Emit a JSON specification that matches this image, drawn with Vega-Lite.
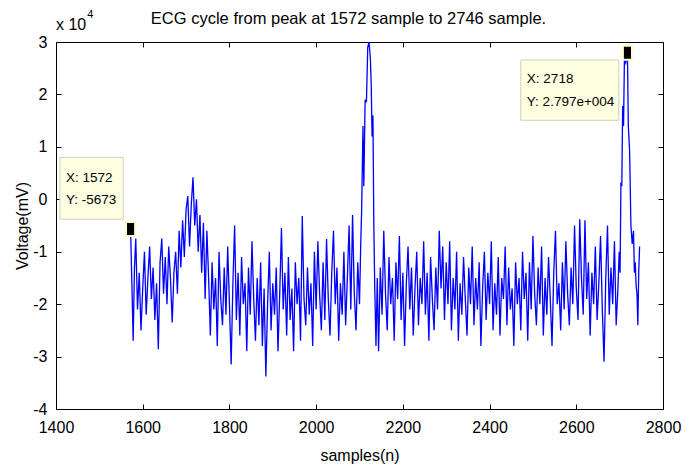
{
  "$schema": "https://vega.github.io/schema/vega-lite/v6.json",
  "width": 607,
  "height": 367,
  "autosize": {"type": "none"},
  "padding": {"left": 56, "top": 42, "right": 35, "bottom": 58},
  "background": "white",
  "config": {
    "font": "Liberation Sans, Arial, sans-serif",
    "view": {"stroke": null},
    "axis": {
      "domainColor": "black",
      "domainWidth": 1,
      "tickColor": "black",
      "labelColor": "black",
      "titleColor": "black",
      "labelFontSize": 16,
      "titleFontSize": 16,
      "titleFontWeight": "normal",
      "grid": false,
      "tickSize": -5,
      "labelPadding": 8,
      "labelFlush": false,
      "labelOverlap": false,
      "labelExpr": "'' + datum.value"
    }
  },
  "title": {
    "text": "ECG cycle from peak at 1572 sample to 2746 sample.",
    "fontSize": 16.5,
    "fontWeight": "normal",
    "color": "black",
    "offset": 0,
    "dy": 18,
    "dx": -11
  },
  "datasets": {
    "ecg": [
      {"n":1572,"v":-0.567},{"n":1575,"v":-1.6},{"n":1578,"v":-2.7},{"n":1581,"v":-1.3},{"n":1584,"v":-0.75},{"n":1588,"v":-2.1},{"n":1592,"v":-1.4},{"n":1596,"v":-2.5},{"n":1600,"v":-1.7},{"n":1604,"v":-1.0},{"n":1608,"v":-2.2},{"n":1612,"v":-1.5},{"n":1616,"v":-0.9},{"n":1620,"v":-1.9},{"n":1624,"v":-1.3},{"n":1628,"v":-2.3},{"n":1632,"v":-1.6},{"n":1636,"v":-2.86},{"n":1640,"v":-1.2},{"n":1644,"v":-0.75},{"n":1648,"v":-1.8},{"n":1652,"v":-1.1},{"n":1656,"v":-2.0},{"n":1660,"v":-0.9},{"n":1664,"v":-1.5},{"n":1668,"v":-2.35},{"n":1672,"v":-1.4},{"n":1676,"v":-1.0},
      {"n":1680,"v":-1.8},{"n":1684,"v":-0.6},{"n":1688,"v":-1.3},{"n":1692,"v":-0.4},{"n":1696,"v":-1.1},{"n":1700,"v":-0.2},{"n":1704,"v":0.06},{"n":1708,"v":-0.9},{"n":1712,"v":-0.1},{"n":1716,"v":0.42},{"n":1720,"v":-0.5},{"n":1724,"v":0.0},{"n":1728,"v":-1.0},{"n":1732,"v":-0.3},{"n":1736,"v":-1.4},{"n":1740,"v":-0.45},{"n":1744,"v":-1.9},{"n":1748,"v":-0.6},{"n":1752,"v":-1.5},
      {"n":1756,"v":-2.6},{"n":1760,"v":-1.2},{"n":1764,"v":-2.1},{"n":1768,"v":-1.5},{"n":1772,"v":-2.8},{"n":1776,"v":-1.0},{"n":1780,"v":-1.9},{"n":1784,"v":-2.4},{"n":1788,"v":-1.3},{"n":1792,"v":-2.2},{"n":1796,"v":-0.9},{"n":1800,"v":-2.0},{"n":1804,"v":-3.15},{"n":1808,"v":-1.6},{"n":1812,"v":-0.5},{"n":1816,"v":-2.3},{"n":1820,"v":-1.4},
      {"n":1824,"v":-2.6},{"n":1828,"v":-1.1},{"n":1832,"v":-2.0},{"n":1836,"v":-1.6},{"n":1840,"v":-2.9},{"n":1844,"v":-1.3},{"n":1848,"v":-2.2},{"n":1852,"v":-0.8},{"n":1856,"v":-1.9},{"n":1860,"v":-2.7},{"n":1864,"v":-1.5},{"n":1868,"v":-2.4},{"n":1872,"v":-1.2},{"n":1876,"v":-2.8},{"n":1880,"v":-1.7},{"n":1884,"v":-3.38},{"n":1888,"v":-2.0},{"n":1892,"v":-1.0},{"n":1896,"v":-2.5},{"n":1900,"v":-1.6},{"n":1904,"v":-2.2},{"n":1908,"v":-1.3},{"n":1912,"v":-2.9},{"n":1916,"v":-1.8},{"n":1920,"v":-0.55},{"n":1924,"v":-2.1},{"n":1928,"v":-1.4},{"n":1932,"v":-2.6},{"n":1936,"v":-1.1},{"n":1940,"v":-2.3},{"n":1944,"v":-1.7},{"n":1948,"v":-2.9},{"n":1952,"v":-1.2},{"n":1956,"v":-2.0},{"n":1960,"v":-1.5},{"n":1964,"v":-2.7},{"n":1968,"v":-0.32},{"n":1972,"v":-1.9},{"n":1976,"v":-2.4},{"n":1980,"v":-1.3},{"n":1984,"v":-2.2},{"n":1988,"v":-1.6},{"n":1992,"v":-2.8},{"n":1996,"v":-1.0},{"n":2000,"v":-2.1},{"n":2004,"v":-0.8},{"n":2008,"v":-1.8},{"n":2012,"v":-2.5},{"n":2016,"v":-1.2},{"n":2020,"v":-2.3},{"n":2024,"v":-0.76},{"n":2028,"v":-1.9},{"n":2032,"v":-2.6},{"n":2036,"v":-1.4},{"n":2040,"v":-0.6},{"n":2044,"v":-2.0},{"n":2048,"v":-1.3},{"n":2052,"v":-2.7},{"n":2056,"v":-1.6},{"n":2060,"v":-2.2},{"n":2064,"v":-1.0},{"n":2068,"v":-2.4},{"n":2072,"v":-1.5},{"n":2076,"v":-0.5},{"n":2080,"v":-2.1},{"n":2084,"v":-0.3},{"n":2088,"v":-1.8},{"n":2092,"v":-2.5},{"n":2096,"v":-1.2},{"n":2100,"v":-2.0},
      {"n":2103,"v":-0.8},{"n":2105,"v":-0.2},{"n":2108,"v":1.4},{"n":2110,"v":0.25},{"n":2113,"v":1.9},{"n":2116,"v":1.85},{"n":2119,"v":2.9},{"n":2122,"v":3.0},{"n":2125,"v":2.7},{"n":2127,"v":2.2},{"n":2129,"v":1.2},{"n":2131,"v":1.6},{"n":2133,"v":-0.45},{"n":2135,"v":-1.6},{"n":2138,"v":-2.8},{"n":2141,"v":-1.5},
      {"n":2144,"v":-2.9},{"n":2148,"v":-1.3},{"n":2152,"v":-2.2},{"n":2156,"v":-0.6},{"n":2160,"v":-1.8},{"n":2164,"v":-2.5},{"n":2168,"v":-1.1},{"n":2172,"v":-2.0},{"n":2176,"v":-1.5},{"n":2180,"v":-2.7},{"n":2184,"v":-1.2},{"n":2188,"v":-1.9},{"n":2192,"v":-0.7},{"n":2196,"v":-2.3},{"n":2200,"v":-1.4},{"n":2204,"v":-2.8},{"n":2208,"v":-1.6},{"n":2212,"v":-0.9},{"n":2216,"v":-2.1},{"n":2220,"v":-1.3},{"n":2224,"v":-2.6},{"n":2228,"v":-1.7},{"n":2232,"v":-1.0},{"n":2236,"v":-2.4},{"n":2240,"v":-1.5},{"n":2244,"v":-2.0},{"n":2248,"v":-0.8},{"n":2252,"v":-2.2},{"n":2256,"v":-1.4},{"n":2260,"v":-2.7},{"n":2264,"v":-1.1},{"n":2268,"v":-1.9},{"n":2272,"v":-2.5},{"n":2276,"v":-1.3},{"n":2280,"v":-2.1},
      {"n":2284,"v":-0.6},{"n":2288,"v":-1.7},{"n":2292,"v":-0.9},{"n":2296,"v":-2.3},{"n":2300,"v":-1.2},{"n":2304,"v":-2.0},{"n":2308,"v":-0.8},{"n":2312,"v":-2.5},{"n":2316,"v":-1.5},{"n":2320,"v":-2.1},{"n":2324,"v":-1.0},{"n":2328,"v":-2.7},{"n":2332,"v":-1.6},{"n":2336,"v":-2.2},{"n":2340,"v":-1.1},{"n":2344,"v":-1.9},{"n":2348,"v":-2.6},{"n":2352,"v":-1.3},{"n":2356,"v":-2.0},{"n":2360,"v":-0.9},{"n":2364,"v":-2.4},{"n":2368,"v":-1.5},{"n":2372,"v":-2.1},{"n":2376,"v":-1.2},{"n":2380,"v":-2.8},{"n":2384,"v":-1.7},{"n":2388,"v":-1.0},{"n":2392,"v":-2.3},{"n":2396,"v":-1.4},{"n":2400,"v":-2.0},{"n":2404,"v":-0.8},{"n":2408,"v":-2.5},{"n":2412,"v":-1.6},{"n":2416,"v":-2.2},{"n":2420,"v":-1.1},{"n":2424,"v":-2.6},{"n":2428,"v":-1.5},{"n":2432,"v":-1.9},{"n":2436,"v":-0.9},{"n":2440,"v":-2.4},{"n":2444,"v":-1.3},{"n":2448,"v":-2.1},{"n":2452,"v":-1.7},{"n":2456,"v":-2.8},{"n":2460,"v":-1.2},{"n":2464,"v":-2.0},{"n":2468,"v":-1.5},
      {"n":2472,"v":-2.5},{"n":2476,"v":-1.0},{"n":2480,"v":-1.9},{"n":2484,"v":-1.4},{"n":2488,"v":-2.7},{"n":2492,"v":-1.2},{"n":2496,"v":-2.1},{"n":2500,"v":-0.7},{"n":2504,"v":-1.8},{"n":2508,"v":-2.4},{"n":2512,"v":-1.3},{"n":2516,"v":-2.0},{"n":2520,"v":-0.9},{"n":2524,"v":-2.6},{"n":2528,"v":-1.5},{"n":2532,"v":-2.2},{"n":2536,"v":-1.1},{"n":2540,"v":-1.9},{"n":2544,"v":-2.8},{"n":2548,"v":-1.4},{"n":2552,"v":-0.6},{"n":2556,"v":-2.0},{"n":2560,"v":-1.6},{"n":2564,"v":-2.5},{"n":2568,"v":-1.2},{"n":2572,"v":-2.1},{"n":2576,"v":-0.8},{"n":2580,"v":-1.8},{"n":2584,"v":-2.4},{"n":2588,"v":-1.3},{"n":2592,"v":-2.0},{"n":2596,"v":-0.5},{"n":2600,"v":-1.7},{"n":2604,"v":-2.3},{"n":2608,"v":-0.38},{"n":2612,"v":-1.5},{"n":2616,"v":-2.2},{"n":2620,"v":-0.4},{"n":2624,"v":-1.9},{"n":2628,"v":-1.2},{"n":2632,"v":-2.6},{"n":2636,"v":-1.4},{"n":2640,"v":-2.0},{"n":2644,"v":-0.9},{"n":2648,"v":-2.3},{"n":2652,"v":-1.6},{"n":2656,"v":-0.7},{"n":2660,"v":-2.1},{"n":2664,"v":-3.1},{"n":2668,"v":-1.5},{"n":2672,"v":-0.5},{"n":2676,"v":-2.2},{"n":2680,"v":-1.3},{"n":2684,"v":-2.0},{"n":2688,"v":-0.8},{"n":2692,"v":-2.4},{"n":2696,"v":-1.7},
      {"n":2699,"v":-1.0},{"n":2701,"v":-1.4},{"n":2703,"v":0.32},{"n":2705,"v":0.25},{"n":2707,"v":1.78},{"n":2709,"v":1.4},{"n":2711,"v":2.67},{"n":2714,"v":2.6},{"n":2718,"v":2.797},{"n":2720,"v":1.4},{"n":2723,"v":0.92},{"n":2726,"v":-0.5},{"n":2729,"v":-0.85},{"n":2732,"v":-0.6},{"n":2734,"v":-1.4},{"n":2736,"v":-1.2},{"n":2738,"v":-1.65},{"n":2740,"v":-1.8},{"n":2742,"v":-2.4},{"n":2744,"v":-1.4},{"n":2746,"v":-0.9}
    ],
    "tips": [
      {"x1":1409,"x2":1555,"y1":0.80,"y2":-0.38,"tx":1423,"ty1":0.40,"ty2":-0.02,"l1":"X: 1572","l2":"Y: -5673","pn":1572,"pv":-0.567},
      {"x1":2472,"x2":2698,"y1":2.657,"y2":1.507,"tx":2486,"ty1":2.30,"ty2":1.86,"l1":"X: 2718","l2":"Y: 2.797e+004","pn":2718,"pv":2.797}
    ],
    "exp": [
      {"n":1400,"v":3.23,"t":"x 10","s":16},
      {"n":1472,"v":3.45,"t":"4","s":11}
    ]
  },
  "layer": [
    {
      "data": {"name": "ecg"},
      "mark": {"type": "line", "color": "#0000ff", "strokeWidth": 1.3, "clip": true},
      "encoding": {
        "x": {"field": "n", "type": "quantitative",
              "scale": {"domain": [1400, 2800], "nice": false, "zero": false},
              "axis": {"orient": "bottom", "values": [1400,1600,1800,2000,2200,2400,2600,2800], "title": "samples(n)", "titlePadding": 12, "labelPadding": 15}},
        "y": {"field": "v", "type": "quantitative",
              "scale": {"domain": [-4, 3], "nice": false, "zero": false},
              "axis": {"orient": "left", "values": [-4,-3,-2,-1,0,1,2,3], "title": "Voltage(mV)", "titlePadding": 2, "labelPadding": 14}}
      }
    },
    {
      "data": {"name": "tips"},
      "mark": {"type": "rect", "fill": "#ffffe1", "stroke": "#cfcfbd", "strokeWidth": 1},
      "encoding": {
        "x": {"field": "x1", "type": "quantitative",
              "axis": {"orient": "top", "values": [1400,1600,1800,2000,2200,2400,2600,2800], "labels": false, "title": null}},
        "x2": {"field": "x2"},
        "y": {"field": "y1", "type": "quantitative",
              "axis": {"orient": "right", "values": [-4,-3,-2,-1,0,1,2,3], "labels": false, "title": null}},
        "y2": {"field": "y2"}
      }
    },
    {
      "data": {"name": "tips"},
      "mark": {"type": "text", "align": "left", "baseline": "middle", "fontSize": 13.5, "color": "black"},
      "encoding": {
        "x": {"field": "tx", "type": "quantitative", "axis": null},
        "y": {"field": "ty1", "type": "quantitative", "axis": null},
        "text": {"field": "l1"}
      }
    },
    {
      "data": {"name": "tips"},
      "mark": {"type": "text", "align": "left", "baseline": "middle", "fontSize": 13.5, "color": "black"},
      "encoding": {
        "x": {"field": "tx", "type": "quantitative", "axis": null},
        "y": {"field": "ty2", "type": "quantitative", "axis": null},
        "text": {"field": "l2"}
      }
    },
    {
      "data": {"name": "tips"},
      "mark": {"type": "point", "shape": "M -0.65 -1 L 0.65 -1 L 0.65 1 L -0.65 1 Z", "size": 196, "filled": true, "fill": "black", "stroke": "#ffffc8", "strokeWidth": 2, "opacity": 1},
      "encoding": {
        "x": {"field": "pn", "type": "quantitative", "axis": null},
        "y": {"field": "pv", "type": "quantitative", "axis": null}
      }
    },
    {
      "data": {"name": "exp"},
      "mark": {"type": "text", "align": "left", "baseline": "alphabetic", "color": "black"},
      "encoding": {
        "x": {"field": "n", "type": "quantitative", "axis": null},
        "y": {"field": "v", "type": "quantitative", "axis": null},
        "text": {"field": "t"},
        "size": {"field": "s", "type": "quantitative", "scale": null, "legend": null}
      }
    }
  ]
}
